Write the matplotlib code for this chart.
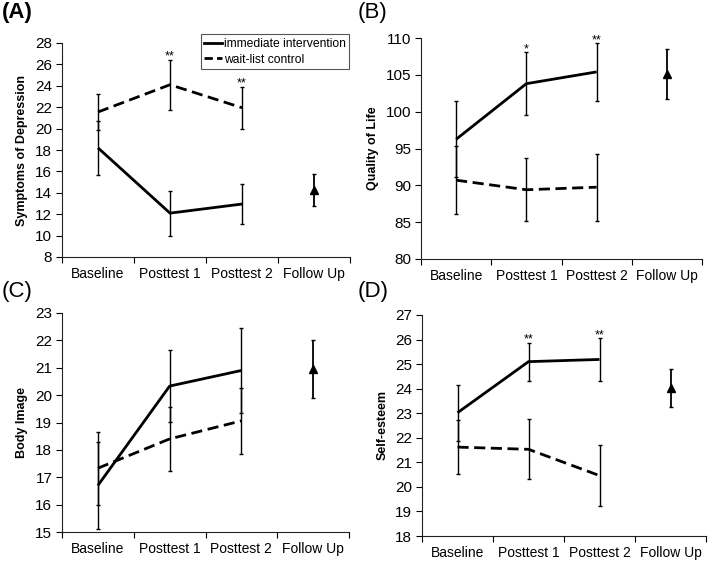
import numpy as np
import matplotlib.pyplot as plt
from matplotlib.lines import Line2D

plt.rcParams['font.family'] = ['Liberation Sans', 'DejaVu Sans']

timepoints = ['Baseline', 'Posttest 1', 'Posttest 2', 'Follow Up']

# (A) symptoms of depression
dep_imm = [18.2, 12.1, 12.95]
dep_imm_err = [2.5, 2.1, 1.85]
dep_wait = [21.55, 24.1, 21.95]
dep_wait_err = [1.65, 2.35, 1.95]
dep_follow = 14.3
dep_follow_err = 1.5
dep_stars = ['', '**', '**']

# (B) quality of life
qol_imm = [96.25, 103.8, 105.4]
qol_imm_err = [5.15, 4.3, 3.9]
qol_wait = [90.7, 89.4, 89.75]
qol_wait_err = [4.65, 4.3, 4.55]
qol_follow = 105.1
qol_follow_err = 3.4
qol_stars = ['', '*', '**']

# (C) body image
body_imm = [16.7, 20.33, 20.9]
body_imm_err = [1.6, 1.31, 1.57]
body_wait = [17.33, 18.4, 19.06]
body_wait_err = [1.33, 1.18, 1.21]
body_follow = 20.95
body_follow_err = 1.05
body_stars = ['', '', '']

# (D) self-esteem
se_imm = [23.02, 25.1, 25.19]
se_imm_err = [1.14, 0.78, 0.86]
se_wait = [21.62, 21.53, 20.46]
se_wait_err = [1.1, 1.22, 1.24]
se_follow = 24.03
se_follow_err = 0.77
se_stars = ['', '**', '**']

panels = [
    ('(A)', 'Symptoms of Depression', dep_imm, dep_imm_err, dep_wait, dep_wait_err,
     dep_follow, dep_follow_err, dep_stars, (8, 28), 2, 'bold'),
    ('(B)', 'Quality of Life', qol_imm, qol_imm_err, qol_wait, qol_wait_err,
     qol_follow, qol_follow_err, qol_stars, (80, 110), 5, 'normal'),
    ('(C)', 'Body Image', body_imm, body_imm_err, body_wait, body_wait_err,
     body_follow, body_follow_err, body_stars, (15, 23), 1, 'normal'),
    ('(D)', 'Self-esteem', se_imm, se_imm_err, se_wait, se_wait_err,
     se_follow, se_follow_err, se_stars, (18, 27), 1, 'normal'),
]

# axes boxes in figure pixels: left, right, top, bottom
W, H = 709, 561
boxes = [(62, 350, 43, 257), (421, 702, 38, 259),
         (62, 349, 313, 532), (422, 706, 315, 536)]
letter_pos = [(2, 2), (358, 2), (2, 281), (358, 281)]

fig = plt.figure(figsize=(W / 100, H / 100), dpi=100)

xs = np.arange(len(timepoints)) + 0.5

for (letter, ylabel, imm, imm_err, wait, wait_err, fu, fu_err, stars, ylim, ystep, lw_letter), \
        (l, r, t, b), (lx, ly) in zip(panels, boxes, letter_pos):
    ax = fig.add_axes([l / W, 1 - b / H, (r - l) / W, (b - t) / H])

    ax.plot(xs[:3], imm, color='black', lw=2.0, solid_capstyle='butt', zorder=3)
    ax.plot(xs[:3], wait, color='black', lw=2.0, dashes=(4, 2), zorder=3)
    ax.errorbar(xs[:3], imm, yerr=imm_err, fmt='none', ecolor='black',
                elinewidth=1.0, capsize=1.5, capthick=1.0, zorder=4)
    ax.errorbar(xs[:3], wait, yerr=wait_err, fmt='none', ecolor='black',
                elinewidth=1.0, capsize=1.5, capthick=1.0, zorder=4)
    ax.errorbar([xs[3]], [fu], yerr=[fu_err], fmt='^', color='black', ms=6,
                elinewidth=1.3, capsize=1.5, capthick=1.0, zorder=5)

    # significance marks above the higher error bar
    for i, s in enumerate(stars):
        if s:
            top = max(imm[i] + imm_err[i], wait[i] + wait_err[i])
            ax.annotate(s, (xs[i], top), xytext=(0, 0), textcoords='offset points',
                        ha='center', va='baseline', fontsize=9)

    ax.set_xlim(0, 4)
    ax.set_ylim(*ylim)
    ax.set_yticks(np.arange(ylim[0], ylim[1] + 0.01, ystep))
    ax.set_xticks(np.arange(0, 5))
    ax.set_xticklabels([])
    ax.set_xticks(xs, minor=True)
    ax.set_xticklabels(timepoints, minor=True)
    ax.tick_params(axis='x', which='minor', length=0, labelsize=10, pad=7)
    ax.tick_params(axis='x', which='major', length=4, direction='out')
    ax.tick_params(axis='y', length=4, direction='out', labelsize=11, pad=3)
    for sp in ['top', 'right']:
        ax.spines[sp].set_visible(False)
    for sp in ['left', 'bottom']:
        ax.spines[sp].set_color('#222222')
    ax.set_ylabel(ylabel, fontsize=9, fontweight='bold', labelpad=5)

    fig.text(lx / W, 1 - ly / H, letter, fontsize=16, fontweight=lw_letter,
             ha='left', va='top')

    if letter == '(A)':
        handles = [Line2D([], [], color='black', lw=2.0),
                   Line2D([], [], color='black', lw=2.0, dashes=(3, 1.5))]
        leg = ax.legend(handles, ['immediate intervention', 'wait-list control'],
                        loc='upper right', bbox_to_anchor=(0.997, 1.04),
                        fontsize=8.7, handlelength=1.5, handletextpad=0.1,
                        borderpad=0.3, labelspacing=0.3, fancybox=False,
                        framealpha=1, edgecolor='#555555', borderaxespad=0)
        leg.get_frame().set_linewidth(0.8)

fig.savefig('out.png', dpi=100)
